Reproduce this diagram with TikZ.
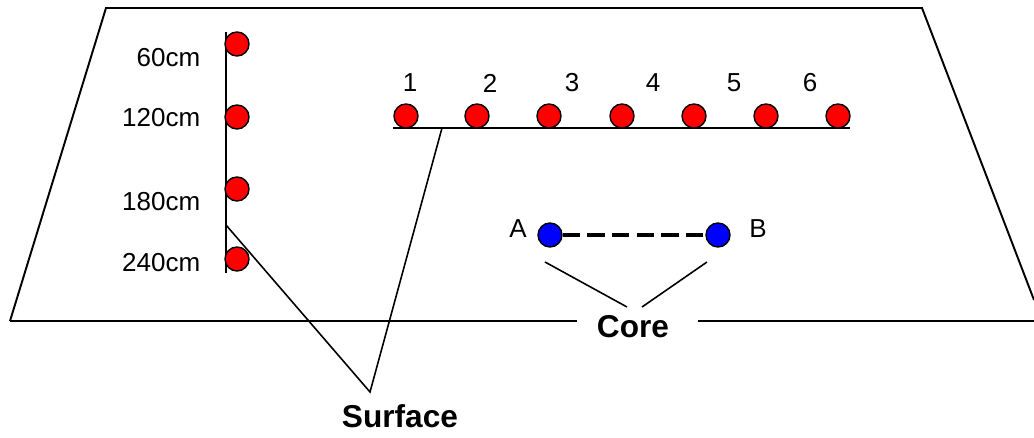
\documentclass[tikz,border=0pt]{standalone}
\usepackage{fontspec}
\setmainfont{Liberation Sans}
\usetikzlibrary{calc}
\begin{document}
\begin{tikzpicture}[x=0.02cm,y=-0.02cm,line width=1.1pt,
    redball/.style={circle,draw,fill=red,minimum size=0.48cm,inner sep=0pt,line width=0.8pt},
    blueball/.style={circle,draw,fill=blue,minimum size=0.48cm,inner sep=0pt,line width=0.8pt},
    lbl/.style={font=\fontsize{14.8}{16}\selectfont},
    big/.style={font=\fontsize{18}{21}\selectfont\bfseries}]
    \useasboundingbox (0,0) rectangle (1034,438);
    % plane
    \coordinate(TL)at(106,8);
    \coordinate(TR)at(922,8);
    \coordinate(RE)at(1034,300);
    \coordinate(BR)at(1034,321);
    \coordinate(BL)at(10,321);
    \coordinate(G1)at(577,321);
    \coordinate(G2)at(698,321);
    \draw(BL)--(TL)--(TR)--(RE);
    \draw(BL)--(G1) (G2)--(BR);
    % depth line and surface line
    \coordinate(V1)at(226,32);
    \coordinate(V2)at(226,273);
    \coordinate(H1)at(393,128);
    \coordinate(H2)at(850,128);
    \draw(V1)--(V2);
    \draw(H1)--(H2);
    \foreach \y/\d/\t in {44/60/58,117/120/118,189/180/202,259/240/263}{
      \node[redball](d\d) at (237,\y) {};
      \node[lbl,anchor=east](l\d) at (207,\t) {\d cm};
    }
    \foreach \x [count=\i] in {406,477,549,622,694,766,838}{
      \node[redball](s\i) at (\x,116) {};
    }
    \foreach \x [count=\i] in {410,490,572,653,734,810}{
      \node[lbl](n\i) at (\x,83) {\i};
    }
    % core
    \node[blueball](A) at (550,235) {};
    \node[blueball](B) at (718,235) {};
    \draw[line width=2.2pt,dash pattern=on 10pt off 4pt](A)--(B);
    \node[lbl](lA) at (518,229) {A};
    \node[lbl](lB) at (758,229) {B};
    \node[big](core) at (633,327) {Core};
    \coordinate(C1)at(545,262);
    \coordinate(C2)at(627,307);
    \coordinate(C3)at(642,307);
    \coordinate(C4)at(707,262);
    \draw[line width=0.9pt](C1)--(C2) (C3)--(C4);
    % surface
    \node[big](surface) at (400,416) {Surface};
    \coordinate(S1)at(226,225);
    \coordinate(S2)at(370,392);
    \coordinate(S3)at(442,128);
    \draw[line width=0.9pt](S1)--(S2)--(S3);
  \end{tikzpicture}
\end{document}
